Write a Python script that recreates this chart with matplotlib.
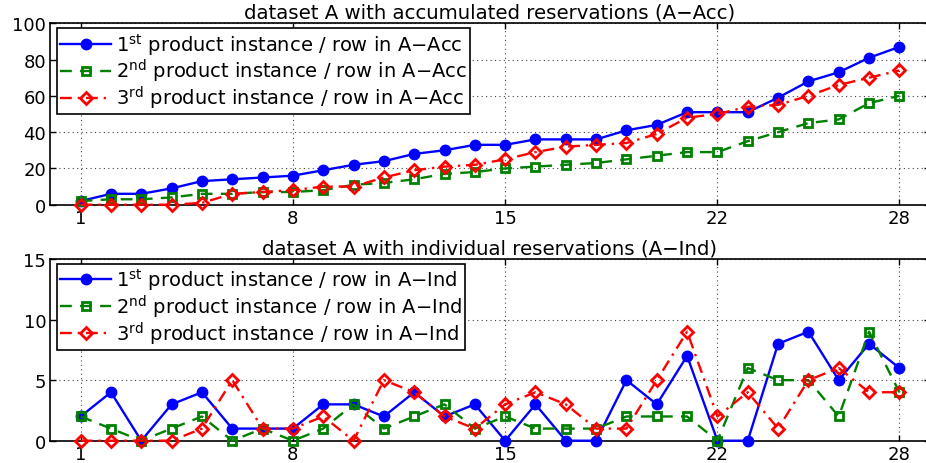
import matplotlib
matplotlib.use("Agg")
import matplotlib.pyplot as plt
import numpy as np

plt.rcParams['font.family'] = ['DejaVu Sans']
plt.rcParams['mathtext.fontset'] = 'dejavusans'

x_rows = list(range(1, 29))
xticks = [1, 8, 15, 22, 28]

acc_first = [2, 6, 6, 9, 13, 14, 15, 16, 19, 22, 24, 28, 30, 33, 33, 36, 36, 36, 41, 44, 51, 51, 51, 59, 68, 73, 81, 87]
acc_second = [2, 3, 3, 4, 6, 6, 7, 7, 8, 11, 12, 14, 17, 18, 20, 21, 22, 23, 25, 27, 29, 29, 35, 40, 45, 47, 56, 60]
acc_third = [0, 0, 0, 0, 1, 6, 7, 8, 10, 10, 15, 19, 21, 22, 25, 29, 32, 33, 34, 39, 48, 50, 54, 55, 60, 66, 70, 74]

ind_first = [2, 4, 0, 3, 4, 1, 1, 1, 3, 3, 2, 4, 2, 3, 0, 3, 0, 0, 5, 3, 7, 0, 0, 8, 9, 5, 8, 6]
ind_second = [2, 1, 0, 1, 2, 0, 1, 0, 1, 3, 1, 2, 3, 1, 2, 1, 1, 1, 2, 2, 2, 0, 6, 5, 5, 2, 9, 4]
ind_third = [0, 0, 0, 0, 1, 5, 1, 1, 2, 0, 5, 4, 2, 1, 3, 4, 3, 1, 1, 5, 9, 2, 4, 1, 5, 6, 4, 4]

title_acc = "dataset A with accumulated reservations (A\u2212Acc)"
title_ind = "dataset A with individual reservations (A\u2212Ind)"
ordinals = [r"1$^{\mathrm{st}}$", r"2$^{\mathrm{nd}}$", r"3$^{\mathrm{rd}}$"]
label_tail_acc = " product instance / row in A\u2212Acc"
label_tail_ind = " product instance / row in A\u2212Ind"

W, H = 926, 464
fig = plt.figure(figsize=(W / 100, H / 100), dpi=100)

def frac_box(left, top, right, bottom):
    return [left / W, 1 - bottom / H, (right - left) / W, (bottom - top) / H]

ax1 = fig.add_axes(frac_box(50.3, 24.3, 929.7, 205.7))
ax2 = fig.add_axes(frac_box(50.3, 260.0, 929.7, 441.7))

styles = [
    dict(color='#0000ff', linestyle='-', marker='o', markersize=7.5, markerfacecolor='#0000ff',
         markeredgecolor='#0000ff', linewidth=1.7),
    dict(color='#008000', linestyle='--', marker='s', markersize=5.5, markerfacecolor='none',
         markeredgecolor='#008000', markeredgewidth=2.0, linewidth=1.7, dashes=(5, 3.5)),
    dict(color='#ff0000', linestyle='-.', marker='D', markersize=6.5, markerfacecolor='none',
         markeredgecolor='#ff0000', markeredgewidth=2.0, linewidth=1.7, dashes=(5, 2.5, 1, 2.5)),
]

def setup(ax, series, yticks, ylim, title, tail):
    for s, st, o in zip(series, styles, ordinals):
        ax.plot(x_rows, s, label=o + tail, clip_on=False, zorder=3, **st)
    ax.set_xlim(0, 29)
    ax.set_ylim(*ylim)
    ax.set_xticks(xticks)
    ax.set_yticks(yticks)
    ax.tick_params(direction='in', length=4, width=1, top=True, right=True,
                   labelsize=13, pad=3, colors='black')
    ax.grid(True, linestyle=(0, (1, 3)), color='#444444', linewidth=0.8)
    for sp in ax.spines.values():
        sp.set_linewidth(1.2)
    ax.set_title(title, fontsize=14.2, pad=4)
    leg = ax.legend(loc='upper left', bbox_to_anchor=(0.008, 0.975), borderaxespad=0,
                    fontsize=14, fancybox=False, framealpha=1, edgecolor='black',
                    handlelength=2.6, handletextpad=0.25, labelspacing=0.0,
                    borderpad=0.15)
    leg.get_frame().set_linewidth(1.2)

setup(ax1, [acc_first, acc_second, acc_third], [0, 20, 40, 60, 80, 100], (0, 100), title_acc, label_tail_acc)
setup(ax2, [ind_first, ind_second, ind_third], [0, 5, 10, 15], (0, 15), title_ind, label_tail_ind)

fig.savefig("out.png", dpi=100)
